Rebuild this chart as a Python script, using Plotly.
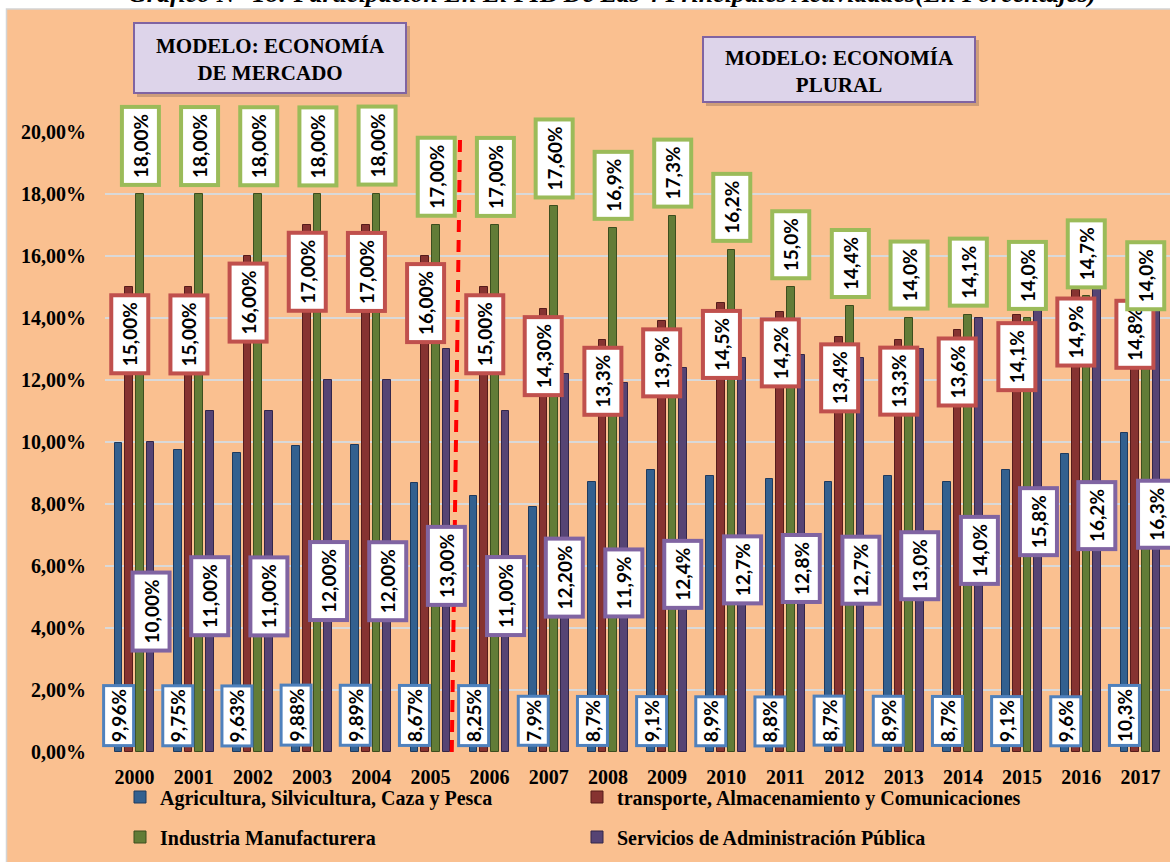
import plotly.graph_objects as go

# ---------------- data ----------------
years = [2000, 2001, 2002, 2003, 2004, 2005, 2006, 2007, 2008,
         2009, 2010, 2011, 2012, 2013, 2014, 2015, 2016, 2017]

agricultura = [9.96, 9.75, 9.63, 9.88, 9.89, 8.67, 8.25, 7.9, 8.7,
               9.1, 8.9, 8.8, 8.7, 8.9, 8.7, 9.1, 9.6, 10.3]
transporte = [15.0, 15.0, 16.0, 17.0, 17.0, 16.0, 15.0, 14.3, 13.3,
              13.9, 14.5, 14.2, 13.4, 13.3, 13.6, 14.1, 14.9, 14.8]
industria = [18.0, 18.0, 18.0, 18.0, 18.0, 17.0, 17.0, 17.6, 16.9,
             17.3, 16.2, 15.0, 14.4, 14.0, 14.1, 14.0, 14.7, 14.0]
servicios = [10.0, 11.0, 11.0, 12.0, 12.0, 13.0, 11.0, 12.2, 11.9,
             12.4, 12.7, 12.8, 12.7, 13.0, 14.0, 15.8, 16.2, 16.3]

agricultura_lbl = ["9,96%", "9,75%", "9,63%", "9,88%", "9,89%", "8,67%", "8,25%", "7,9%", "8,7%",
                   "9,1%", "8,9%", "8,8%", "8,7%", "8,9%", "8,7%", "9,1%", "9,6%", "10,3%"]
transporte_lbl = ["15,00%", "15,00%", "16,00%", "17,00%", "17,00%", "16,00%", "15,00%", "14,30%", "13,3%",
                  "13,9%", "14,5%", "14,2%", "13,4%", "13,3%", "13,6%", "14,1%", "14,9%", "14,8%"]
industria_lbl = ["18,00%", "18,00%", "18,00%", "18,00%", "18,00%", "17,00%", "17,00%", "17,60%", "16,9%",
                 "17,3%", "16,2%", "15,0%", "14,4%", "14,0%", "14,1%", "14,0%", "14,7%", "14,0%"]
servicios_lbl = ["10,00%", "11,00%", "11,00%", "12,00%", "12,00%", "13,00%", "11,00%", "12,20%", "11,9%",
                 "12,4%", "12,7%", "12,8%", "12,7%", "13,0%", "14,0%", "15,8%", "16,2%", "16,3%"]

series_names = ["Agricultura, Silvicultura, Caza y Pesca",
                "transporte, Almacenamiento y Comunicaciones",
                "Industria Manufacturera",
                "Servicios de Administración Pública"]

y_tickvals = [0, 2, 4, 6, 8, 10, 12, 14, 16, 18, 20]
y_ticktext = ["0,00%", "2,00%", "4,00%", "6,00%", "8,00%", "10,00%",
              "12,00%", "14,00%", "16,00%", "18,00%", "20,00%"]

title_text = "Gráfico N° 18: Participación En El PIB De Las 4 Principales Actividades(En Porcentajes)"
box1_text = "MODELO: ECONOMÍA<br>DE MERCADO"
box2_text = "MODELO: ECONOMÍA<br>PLURAL"

# ---------------- styling ----------------
W, H = 1170, 862
ML, MR, MT, MB = 105, 0, 132, 110
PW, PH = W - ML - MR, H - MT - MB

def px_x(p):
    return (p - ML) / PW

def px_y(p):
    return (H - MB - p) / PH

bar_colors = ["#33608F", "#863331", "#627C37", "#564474"]
line_colors = ["#1E3A5E", "#561C1B", "#3C4E1E", "#33264A"]
label_border = ["#4F81BD", "#C0504D", "#9BBB59", "#8064A2"]
offsets = [-0.27, -0.09, 0.09, 0.27]
bar_w = 0.13
serif = "Liberation Serif"
label_font = dict(family="Lato", size=19, color="black", weight="bold")

values = [agricultura, transporte, industria, servicios]

fig = go.Figure()
for i in range(4):
    fig.add_trace(go.Bar(
        x=years, y=values[i], name=series_names[i],
        width=bar_w, offset=offsets[i] - bar_w / 2,
        marker=dict(color=bar_colors[i], line=dict(color=line_colors[i], width=1)),
        legend="legend" if i < 2 else "legend2",
        hovertemplate="%{x}: %{y:.2f}%<extra>" + series_names[i] + "</extra>",
    ))

annotations = []
for j, yr in enumerate(years):
    # agricultura: at base
    annotations.append(dict(x=yr + offsets[0], y=0, xref="x", yref="y",
                            text=agricultura_lbl[j], showarrow=False, textangle=-90,
                            xanchor="center", yanchor="bottom", yshift=5,
                            bgcolor="white", bordercolor=label_border[0], borderwidth=3, borderpad=2,
                            font=label_font))
    # transporte: just below top
    annotations.append(dict(x=yr + offsets[1], y=transporte[j], xref="x", yref="y",
                            text=transporte_lbl[j], showarrow=False, textangle=-90,
                            xanchor="center", yanchor="top", yshift=-6,
                            bgcolor="white", bordercolor=label_border[1], borderwidth=4, borderpad=5,
                            font=label_font))
    # industria: above top
    annotations.append(dict(x=yr + offsets[2], y=industria[j], xref="x", yref="y",
                            text=industria_lbl[j], showarrow=False, textangle=-90,
                            xanchor="center", yanchor="bottom", yshift=7,
                            bgcolor="white", bordercolor=label_border[2], borderwidth=4, borderpad=5,
                            font=label_font))
    # servicios: centered
    annotations.append(dict(x=yr + offsets[3], y=servicios[j] / 2, xref="x", yref="y",
                            text=servicios_lbl[j], showarrow=False, textangle=-90,
                            xanchor="center", yanchor="middle", yshift=-15,
                            bgcolor="white", bordercolor=label_border[3], borderwidth=4, borderpad=5,
                            font=label_font))

# title (partially cut at the top, as in the reference)
annotations.append(dict(x=px_x(612), y=px_y(10), xref="paper", yref="paper",
                        text=title_text, showarrow=False, xanchor="center", yanchor="bottom",
                        font=dict(family=serif, size=26, color="black", weight="bold", style="italic")))
# model boxes text
annotations.append(dict(x=px_x(270), y=px_y(59), xref="paper", yref="paper",
                        text=box1_text, showarrow=False, xanchor="center", yanchor="middle",
                        font=dict(family=serif, size=21, color="black", weight="bold")))
annotations.append(dict(x=px_x(839), y=px_y(71), xref="paper", yref="paper",
                        text=box2_text, showarrow=False, xanchor="center", yanchor="middle",
                        font=dict(family=serif, size=21, color="black", weight="bold")))

shapes = [
    # orange chart background
    dict(type="rect", xref="paper", yref="paper", layer="below",
         x0=px_x(6.5), x1=px_x(1175), y0=px_y(9), y1=px_y(870),
         fillcolor="#FAC090", line=dict(color="#D4D4D4", width=1.5)),
    # box shadows
    dict(type="rect", xref="paper", yref="paper", layer="above",
         x0=px_x(137), x1=px_x(410), y0=px_y(26), y1=px_y(97),
         fillcolor="rgba(90,70,60,0.28)", line=dict(width=0)),
    dict(type="rect", xref="paper", yref="paper", layer="above",
         x0=px_x(706), x1=px_x(979), y0=px_y(40), y1=px_y(106),
         fillcolor="rgba(90,70,60,0.28)", line=dict(width=0)),
    # boxes
    dict(type="rect", xref="paper", yref="paper", layer="above",
         x0=px_x(134), x1=px_x(406), y0=px_y(23), y1=px_y(93),
         fillcolor="#DDD4EA", line=dict(color="#8064A2", width=2)),
    dict(type="rect", xref="paper", yref="paper", layer="above",
         x0=px_x(703), x1=px_x(975), y0=px_y(37), y1=px_y(102),
         fillcolor="#DDD4EA", line=dict(color="#8064A2", width=2)),
    # dashed separator between models
    dict(type="line", xref="x", yref="y", layer="above",
         x0=2005.5, y0=19.74, x1=2005.36, y1=-0.15,
         line=dict(color="#FF0000", width=4, dash="12px,8px")),
]

fig.update_layout(
    width=W, height=H,
    margin=dict(l=ML, r=MR, t=MT, b=MB),
    paper_bgcolor="white",
    plot_bgcolor="white",
    barmode="overlay",
    bargap=0,
    showlegend=True,
    annotations=annotations,
    shapes=shapes,
    xaxis=dict(range=[1999.5, 2017.5], tickvals=years, ticktext=[str(y) for y in years],
               showgrid=False, zeroline=False, showline=False, ticks="",
               tickfont=dict(family=serif, size=20, color="black", weight="bold"),
               ticklabelstandoff=11),
    yaxis=dict(range=[0, 20], tickvals=y_tickvals, ticktext=y_ticktext,
               showgrid=True, gridcolor="#D9D9D9", gridwidth=1.5, zeroline=False,
               showline=False, ticks="",
               tickfont=dict(family=serif, size=20, color="black", weight="bold"),
               ticklabelstandoff=18),
    legend=dict(orientation="h", x=px_x(120), y=px_y(797), xanchor="left", yanchor="middle",
                entrywidth=412, entrywidthmode="pixels", bgcolor="rgba(0,0,0,0)",
                font=dict(family=serif, size=20, color="black", weight="bold")),
    legend2=dict(orientation="h", x=px_x(120), y=px_y(837), xanchor="left", yanchor="middle",
                 entrywidth=412, entrywidthmode="pixels", bgcolor="rgba(0,0,0,0)",
                 font=dict(family=serif, size=20, color="black", weight="bold")),
)

fig.write_html("out.html",
               config={"displayModeBar": False},
               post_script="document.body.style.margin='0px';document.body.style.overflow='hidden';")
